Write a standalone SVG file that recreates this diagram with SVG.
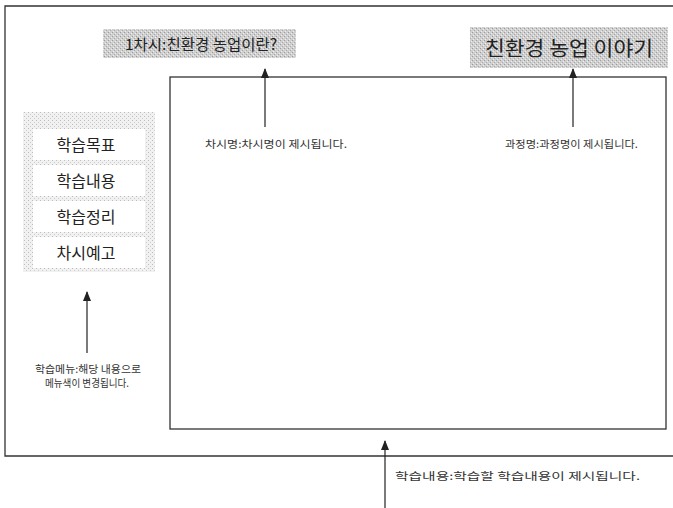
<svg xmlns="http://www.w3.org/2000/svg" width="673" height="508" viewBox="0 0 673 508">
<defs>
<pattern id="stip" width="4" height="4" patternUnits="userSpaceOnUse">
<rect width="4" height="4" fill="#cfcfcf"/>
<rect x="0" y="0" width="1" height="1" fill="#9a9a9a"/>
<rect x="2" y="2" width="1" height="1" fill="#a8a8a8"/>
<rect x="3" y="1" width="1" height="1" fill="#eeeeee"/>
<rect x="1" y="3" width="1" height="1" fill="#eeeeee"/>
</pattern>
<pattern id="lstip" width="4" height="4" patternUnits="userSpaceOnUse">
<rect width="4" height="4" fill="#f1f1f1"/>
<rect x="0" y="0" width="1" height="1" fill="#bdbdbd"/>
<rect x="2" y="2" width="1" height="1" fill="#cccccc"/>
</pattern>
<marker id="ah" markerWidth="10" markerHeight="8" refX="9" refY="4" orient="auto" markerUnits="userSpaceOnUse" viewBox="0 0 10 8">
<path d="M0,0 L10,4 L0,8 Z" fill="#222"/>
</marker>
</defs>
<style>
.frame{fill:none;stroke:#333;stroke-width:1.3}
.lbl{font-family:"Noto Sans CJK KR","Liberation Sans",sans-serif;fill:#333;font-size:10.5px}
.menu{font-family:"Noto Sans CJK KR","Liberation Sans",sans-serif;fill:#222;font-size:16px;text-anchor:middle}
.conn{stroke:#222;stroke-width:1.2;fill:none}
</style>
<rect width="673" height="508" fill="#fff"/>
<g id="outer-frame">
<path class="frame" d="M673,6 L5,6 L5,456 L673,456"/>
</g>
<g id="content-area">
<rect class="frame" x="170" y="77" width="496" height="352"/>
</g>
<g id="lesson-title">
<rect x="103" y="29" width="193" height="29" fill="url(#stip)"/>
<text x="125" y="50" font-family="'Noto Sans CJK KR','Liberation Sans',sans-serif" font-size="15" fill="#222" textLength="152" lengthAdjust="spacingAndGlyphs">1차시:친환경 농업이란?</text>
</g>
<g id="course-title">
<rect x="470" y="27" width="198" height="41" fill="url(#stip)"/>
<text x="485" y="56" font-family="'Noto Sans CJK KR','Liberation Sans',sans-serif" font-size="20" fill="#222" textLength="168" lengthAdjust="spacingAndGlyphs">친환경 농업 이야기</text>
</g>
<g id="menu">
<rect x="23" y="112" width="132" height="160" fill="url(#lstip)"/>
<rect x="33" y="129" width="112" height="31" fill="#fff"/>
<rect x="33" y="165" width="112" height="31" fill="#fff"/>
<rect x="33" y="201" width="112" height="31" fill="#fff"/>
<rect x="33" y="237" width="112" height="31" fill="#fff"/>
<text class="menu" x="86" y="151">학습목표</text>
<text class="menu" x="86" y="187">학습내용</text>
<text class="menu" x="86" y="223">학습정리</text>
<text class="menu" x="86" y="259">차시예고</text>
</g>
<g id="connectors">
<line class="conn" x1="265" y1="127" x2="265" y2="69" marker-end="url(#ah)"/>
<line class="conn" x1="573" y1="127" x2="573" y2="69" marker-end="url(#ah)"/>
<line class="conn" x1="87" y1="353" x2="87" y2="292" marker-end="url(#ah)"/>
<line class="conn" x1="385" y1="508" x2="385" y2="441" marker-end="url(#ah)"/>
</g>
<g id="label-lesson">
<text class="lbl" x="205" y="148" textLength="142" lengthAdjust="spacingAndGlyphs">차시명:차시명이 제시됩니다.</text>
</g>
<g id="label-course">
<text class="lbl" x="505" y="148" textLength="133" lengthAdjust="spacingAndGlyphs">과정명:과정명이 제시됩니다.</text>
</g>
<g id="label-menu">
<text class="lbl" x="35" y="373" font-size="10" textLength="106" lengthAdjust="spacingAndGlyphs">학습메뉴:해당 내용으로</text>
<text class="lbl" x="45" y="387" font-size="10" textLength="84" lengthAdjust="spacingAndGlyphs">메뉴색이 변경됩니다.</text>
</g>
<g id="label-content">
<text class="lbl" x="395" y="480" textLength="245" lengthAdjust="spacingAndGlyphs">학습내용:학습할 학습내용이 제시됩니다.</text>
</g>
</svg>
